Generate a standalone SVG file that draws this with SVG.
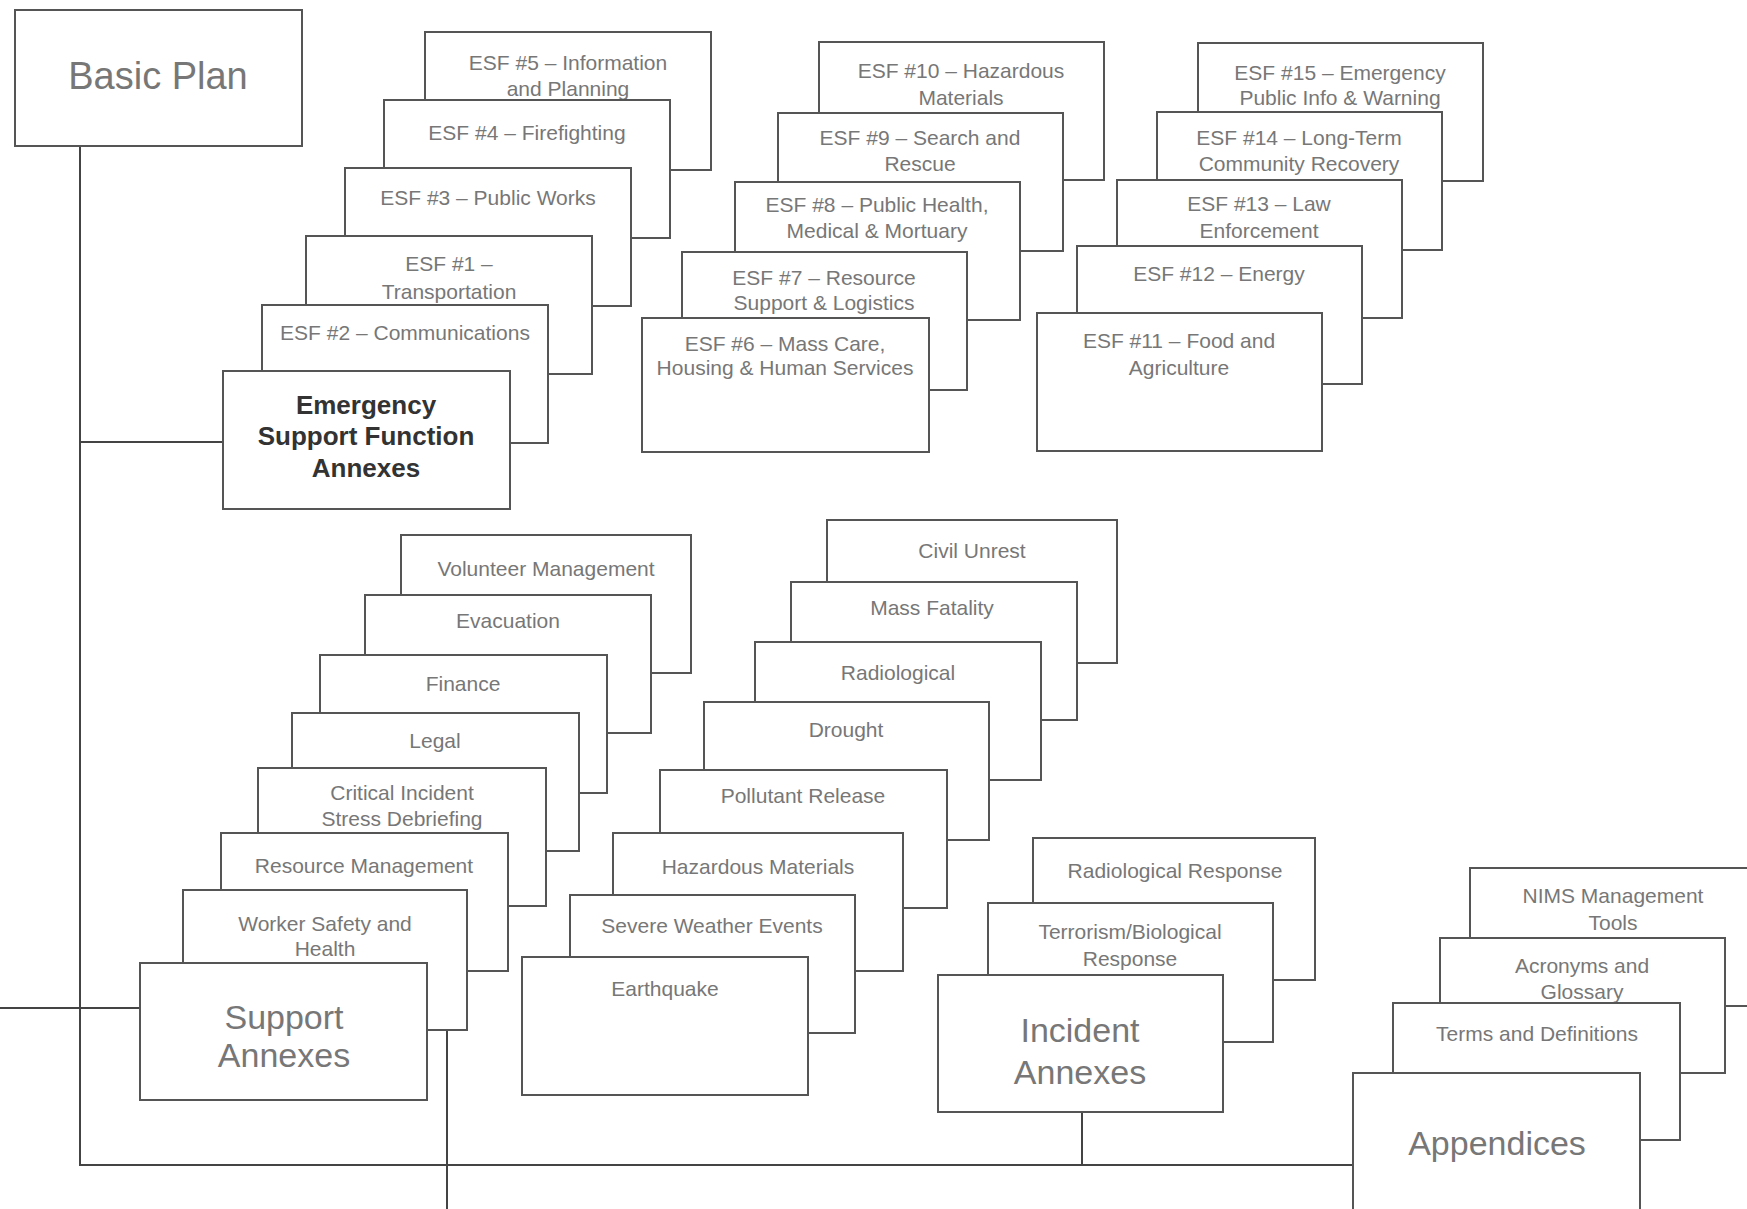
<svg xmlns="http://www.w3.org/2000/svg" width="1747" height="1209" viewBox="0 0 1747 1209">
<style>
.b{fill:#fff;stroke:#555;stroke-width:2}
.t{font-family:"Liberation Sans",Arial,sans-serif;font-size:21px;fill:#777;text-anchor:middle;dominant-baseline:central}
.big{font-size:34px}
.bold{font-weight:bold;font-size:26px;fill:#333}
.c{stroke:#444;stroke-width:2;fill:none}
</style>
<rect width="1747" height="1209" fill="#fff"/>
<g id="connectors">
<path class="c" d="M80 146 V1165 H1353"/>
<path class="c" d="M80 442 H223"/>
<path class="c" d="M0 1008 H140"/>
<path class="c" d="M1082 1112 V1165"/>
<path class="c" d="M447 1030 V1209"/>
</g>
<g id="basic-plan"><rect class="b" x="15" y="10" width="287" height="136"/><text class="t" x="158" y="76" style="font-size:38px">Basic Plan</text></g>

<g id="esf5"><rect class="b" x="425" y="32" width="286" height="138"/><text class="t" x="568" y="62">ESF #5 – Information</text><text class="t" x="568" y="88">and Planning</text></g>
<g id="esf4"><rect class="b" x="384" y="100" width="286" height="138"/><text class="t" x="527" y="132">ESF #4 – Firefighting</text></g>
<g id="esf3"><rect class="b" x="345" y="168" width="286" height="138"/><text class="t" x="488" y="197">ESF #3 – Public Works</text></g>
<g id="esf1"><rect class="b" x="306" y="236" width="286" height="138"/><text class="t" x="449" y="263">ESF #1 –</text><text class="t" x="449" y="291">Transportation</text></g>
<g id="esf2"><rect class="b" x="262" y="305" width="286" height="138"/><text class="t" x="405" y="332">ESF #2 – Communications</text></g>
<g id="esf-annexes"><rect class="b" x="223" y="371" width="287" height="138"/><text class="t bold" x="366" y="405">Emergency</text><text class="t bold" x="366" y="436">Support Function</text><text class="t bold" x="366" y="468">Annexes</text></g>

<g id="esf10"><rect class="b" x="819" y="42" width="285" height="138"/><text class="t" x="961" y="70">ESF #10 – Hazardous</text><text class="t" x="961" y="97">Materials</text></g>
<g id="esf9"><rect class="b" x="778" y="113" width="285" height="138"/><text class="t" x="920" y="137">ESF #9 – Search and</text><text class="t" x="920" y="163">Rescue</text></g>
<g id="esf8"><rect class="b" x="735" y="182" width="285" height="138"/><text class="t" x="877" y="204">ESF #8 – Public Health,</text><text class="t" x="877" y="230">Medical &amp; Mortuary</text></g>
<g id="esf7"><rect class="b" x="682" y="252" width="285" height="138"/><text class="t" x="824" y="277">ESF #7 – Resource</text><text class="t" x="824" y="302">Support &amp; Logistics</text></g>
<g id="esf6"><rect class="b" x="642" y="318" width="287" height="134"/><text class="t" x="785" y="343">ESF #6 – Mass Care,</text><text class="t" x="785" y="367">Housing &amp; Human Services</text></g>

<g id="esf15"><rect class="b" x="1198" y="43" width="285" height="138"/><text class="t" x="1340" y="72">ESF #15 – Emergency</text><text class="t" x="1340" y="97">Public Info &amp; Warning</text></g>
<g id="esf14"><rect class="b" x="1157" y="112" width="285" height="138"/><text class="t" x="1299" y="137">ESF #14 – Long-Term</text><text class="t" x="1299" y="163">Community Recovery</text></g>
<g id="esf13"><rect class="b" x="1117" y="180" width="285" height="138"/><text class="t" x="1259" y="203">ESF #13 – Law</text><text class="t" x="1259" y="230">Enforcement</text></g>
<g id="esf12"><rect class="b" x="1077" y="246" width="285" height="138"/><text class="t" x="1219" y="273">ESF #12 – Energy</text></g>
<g id="esf11"><rect class="b" x="1037" y="313" width="285" height="138"/><text class="t" x="1179" y="340">ESF #11 – Food and</text><text class="t" x="1179" y="367">Agriculture</text></g>

<g id="volunteer"><rect class="b" x="401" y="535" width="290" height="138"/><text class="t" x="546" y="568">Volunteer Management</text></g>
<g id="evacuation"><rect class="b" x="365" y="595" width="286" height="138"/><text class="t" x="508" y="620">Evacuation</text></g>
<g id="finance"><rect class="b" x="320" y="655" width="287" height="138"/><text class="t" x="463" y="683">Finance</text></g>
<g id="legal"><rect class="b" x="292" y="713" width="287" height="138"/><text class="t" x="435" y="740">Legal</text></g>
<g id="critical"><rect class="b" x="258" y="768" width="288" height="138"/><text class="t" x="402" y="792">Critical Incident</text><text class="t" x="402" y="818">Stress Debriefing</text></g>
<g id="resource"><rect class="b" x="221" y="833" width="287" height="138"/><text class="t" x="364" y="865">Resource Management</text></g>
<g id="worker"><rect class="b" x="183" y="890" width="284" height="140"/><text class="t" x="325" y="923">Worker Safety and</text><text class="t" x="325" y="948">Health</text></g>
<g id="support-annexes"><rect class="b" x="140" y="963" width="287" height="137"/><text class="t big" x="284" y="1017">Support</text><text class="t big" x="284" y="1055">Annexes</text></g>

<g id="hz1"><rect class="b" x="827" y="520" width="290" height="143"/><text class="t" x="972" y="550">Civil Unrest</text></g>
<g id="hz2"><rect class="b" x="791" y="582" width="286" height="138"/><text class="t" x="932" y="607">Mass Fatality</text></g>
<g id="hz3"><rect class="b" x="755" y="642" width="286" height="138"/><text class="t" x="898" y="672">Radiological</text></g>
<g id="hz4"><rect class="b" x="704" y="702" width="285" height="138"/><text class="t" x="846" y="729">Drought</text></g>
<g id="hz5"><rect class="b" x="660" y="770" width="287" height="138"/><text class="t" x="803" y="795">Pollutant Release</text></g>
<g id="hz6"><rect class="b" x="613" y="833" width="290" height="138"/><text class="t" x="758" y="866">Hazardous Materials</text></g>
<g id="hz7"><rect class="b" x="570" y="895" width="285" height="138"/><text class="t" x="712" y="925">Severe Weather Events</text></g>
<g id="hz8"><rect class="b" x="522" y="957" width="286" height="138"/><text class="t" x="665" y="988">Earthquake</text></g>

<g id="inc1"><rect class="b" x="1033" y="838" width="282" height="142"/><text class="t" x="1175" y="870">Radiological Response</text></g>
<g id="inc2"><rect class="b" x="988" y="903" width="285" height="139"/><text class="t" x="1130" y="931">Terrorism/Biological</text><text class="t" x="1130" y="958">Response</text></g>
<g id="incident-annexes"><rect class="b" x="938" y="975" width="285" height="137"/><text class="t big" x="1080" y="1030">Incident</text><text class="t big" x="1080" y="1072">Annexes</text></g>

<g id="ap1"><rect class="b" x="1470" y="868" width="290" height="138"/><text class="t" x="1613" y="895">NIMS Management</text><text class="t" x="1613" y="922">Tools</text></g>
<g id="ap2"><rect class="b" x="1440" y="938" width="285" height="135"/><text class="t" x="1582" y="965">Acronyms and</text><text class="t" x="1582" y="991">Glossary</text></g>
<g id="ap3"><rect class="b" x="1393" y="1003" width="287" height="137"/><text class="t" x="1537" y="1033">Terms and Definitions</text></g>
<g id="appendices"><rect class="b" x="1353" y="1073" width="287" height="140"/><text class="t big" x="1497" y="1143">Appendices</text></g>
</svg>
